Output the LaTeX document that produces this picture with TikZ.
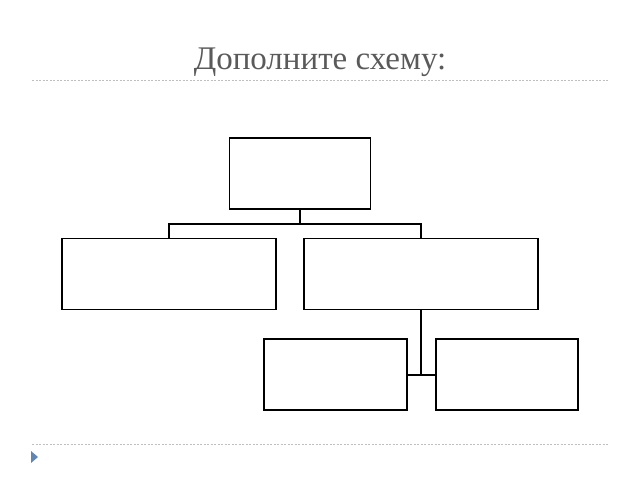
\documentclass[tikz,border=0pt]{standalone}
\usepackage{fontspec}
\setmainfont{Liberation Serif}
\definecolor{bullet}{RGB}{96,135,180}
\definecolor{titlegray}{RGB}{90,90,90}
\begin{document}
\begin{tikzpicture}[x=1pt,y=-1pt,
  blk/.style={draw=black,line width=1.4pt,minimum width=#1,minimum height=71pt,inner sep=0pt},
  conn/.style={draw=black,line width=1.4pt},
  sep/.style={draw=black!25,line width=1pt,dash pattern=on 2pt off 1.5pt}]
\useasboundingbox (0,0) rectangle (640,480);
\node[text=titlegray,font=\fontsize{33}{36}\selectfont,anchor=base,inner sep=0pt] (title) at (320,69) {Дополните схему:};
\coordinate (s1a) at (32,80); \coordinate (s1b) at (608,80);
\draw[sep] (s1a) -- (s1b);
\coordinate (s2a) at (32,444); \coordinate (s2b) at (608,444);
\draw[sep] (s2a) -- (s2b);
\fill[fill=bullet] (31,451) -- (38,457) -- (31,463) -- cycle;
\node[blk=141pt] (top) at (300,173.5) {};
\node[blk=214pt] (left) at (169,274) {};
\node[blk=234pt] (right) at (421,274) {};
\node[blk=143pt] (bl) at (335.5,374.5) {};
\node[blk=142pt] (br) at (507,374.5) {};
\coordinate (j1) at (300,224);
\coordinate (j2) at (421,375);
\draw[conn] (top.south) -- (j1);
\draw[conn] (left.north) |- (j1) -| (right.north);
\draw[conn] (right.south) -- (j2);
\draw[conn] (bl.east |- j2) -- (br.west |- j2);
\end{tikzpicture}
\end{document}
